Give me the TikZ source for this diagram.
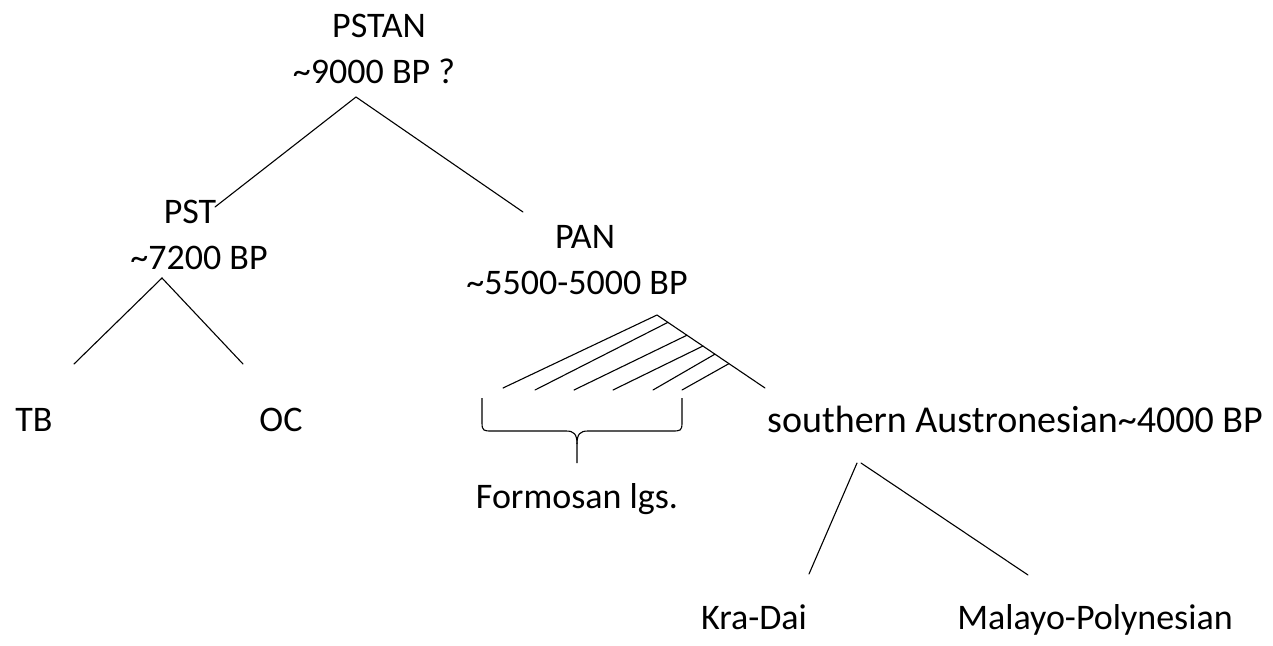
\documentclass[tikz,border=0pt]{standalone}
\usepackage{fontspec}
\setmainfont{Carlito}
\begin{document}
\begin{tikzpicture}[x=1pt,y=-1pt,
  lbl/.style={anchor=base,inner sep=0pt,font=\fontsize{36}{43}\selectfont},
  biglbl/.style={anchor=base,inner sep=0pt,font=\fontsize{38}{45}\selectfont},
  branch/.style={line width=1.1pt,line cap=round}]
\useasboundingbox (0,0) rectangle (1273,645);
% labels
\node[lbl] (pstan) at (379,37) {PSTAN};
\node[lbl] (pstanage) at (374,83) {\textasciitilde 9000 BP ?};
\node[lbl] (pst) at (190,223) {PST};
\node[lbl] (pstage) at (199,269) {\textasciitilde 7200 BP};
\node[lbl] (pan) at (585,248) {PAN};
\node[lbl] (panage) at (577,294) {\textasciitilde 5500-5000 BP};
\node[lbl] (tb) at (34,431) {TB};
\node[lbl] (oc) at (281,431) {OC};
\node[biglbl] (sau) at (1015,432) {southern Austronesian\textasciitilde 4000 BP};
\node[lbl] (formosan) at (577,508) {Formosan lgs.};
\node[lbl] (kradai) at (754,629) {Kra-Dai};
\node[lbl] (mp) at (1095,629) {Malayo-Polynesian};
% coordinates
\coordinate (a0) at (356,97);
\coordinate (a1) at (215,207);
\coordinate (a2) at (523,212);
\coordinate (b0) at (162,278);
\coordinate (b1) at (74,364);
\coordinate (b2) at (243,364);
\coordinate (c0) at (657,315);
\coordinate (c1) at (765,388);
\coordinate (f1) at (503,388);
\coordinate (g2) at (668,322.3);
\coordinate (f2) at (535,390);
\coordinate (g3) at (687,335.2);
\coordinate (f3) at (574,390);
\coordinate (g4) at (703,346);
\coordinate (f4) at (613,390);
\coordinate (g5) at (715,354.1);
\coordinate (f5) at (653,390);
\coordinate (g6) at (729,363.6);
\coordinate (f6) at (682,390);
\coordinate (d0) at (857,463);
\coordinate (d1) at (809,574);
\coordinate (e0) at (861,463);
\coordinate (e1) at (1028,575);
% tree lines
\draw[branch] (a1) -- (a0) -- (a2);
\draw[branch] (b1) -- (b0) -- (b2);
\draw[branch] (f1) -- (c0) -- (c1);
\draw[branch] (g2) -- (f2);
\draw[branch] (g3) -- (f3);
\draw[branch] (g4) -- (f4);
\draw[branch] (g5) -- (f5);
\draw[branch] (g6) -- (f6);
\draw[branch] (d0) -- (d1);
\draw[branch] (e0) -- (e1);
% brace
\coordinate (bl) at (482,398);
\coordinate (br) at (682,398);
\coordinate (bt) at (577,463);
\draw[branch,line cap=butt] (bl) -- (482,423) .. controls (482,431) and (484,431) .. (492,431) -- (566,431)
  .. controls (574,431) and (577,434) .. (577,444) -- (bt);
\draw[branch,line cap=butt] (br) -- (682,423) .. controls (682,431) and (680,431) .. (672,431) -- (588,431)
  .. controls (580,431) and (577,434) .. (577,444);
\end{tikzpicture}
\end{document}
